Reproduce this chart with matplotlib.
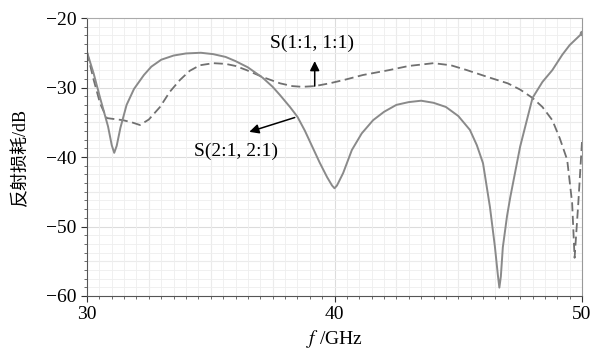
import matplotlib
matplotlib.use("Agg")
import matplotlib.pyplot as plt
from matplotlib.ticker import MultipleLocator

plt.rcParams['font.family'] = ['Liberation Serif', 'Noto Sans CJK SC']
plt.rcParams['mathtext.fontset'] = 'stix'

# S(2:1, 2:1) -- solid curve
f21 = [30.0, 30.27, 30.53, 30.85, 31.0, 31.1, 31.2, 31.35, 31.6, 31.9, 32.3, 32.6, 33.0, 33.5,
       34.0, 34.6, 35.1, 35.6, 36.0, 36.5, 37.1, 37.5, 37.8, 38.2, 38.5, 38.8,
       39.1, 39.4, 39.7, 39.9, 40.0, 40.1, 40.35, 40.7, 41.1, 41.56, 42.0, 42.5, 43.0,
       43.5, 44.0, 44.5, 45.0, 45.47, 45.75, 46.0, 46.28, 46.48, 46.6, 46.66, 46.72, 46.8,
       46.97, 47.1, 47.5, 48.0, 48.4, 48.8, 49.2, 49.5, 50.0]
s21 = [-24.9, -28.0, -31.5, -35.6, -38.3, -39.4, -38.4, -35.8, -32.5, -30.2, -28.2, -27.0, -26.0, -25.4,
       -25.1, -25.0, -25.2, -25.6, -26.2, -27.1, -28.6, -29.9, -31.1, -32.8, -34.2, -36.2,
       -38.5, -40.8, -42.9, -44.1, -44.5, -44.1, -42.3, -39.0, -36.6, -34.7, -33.5, -32.5, -32.1,
       -31.9, -32.2, -32.8, -34.1, -36.1, -38.3, -40.9, -47.2, -52.9, -57.0, -58.8, -57.2, -53.0,
       -48.5, -45.8, -38.5, -31.5, -29.2, -27.5, -25.3, -23.9, -22.2]

# S(1:1, 1:1) -- dashed curve
f11 = [30.0, 30.27, 30.53, 30.8, 31.45, 31.8, 32.14, 32.5, 32.95, 33.35, 33.76, 34.15,
       34.56, 35.1, 35.6, 36.0, 36.45, 37.1, 37.8, 38.3, 38.7, 39.2, 39.8, 40.4,
       41.15, 42.2, 43.0, 44.0, 44.7, 45.35, 46.2, 47.0, 47.5, 48.0, 48.4, 48.8,
       49.1, 49.4, 49.6, 49.7, 49.85, 50.0]
s11 = [-24.9, -28.9, -32.3, -34.4, -34.7, -35.0, -35.4, -34.6, -32.8, -30.6, -28.9, -27.6,
       -26.8, -26.5, -26.6, -26.9, -27.5, -28.5, -29.4, -29.8, -29.9, -29.8, -29.4, -28.9,
       -28.2, -27.5, -26.9, -26.5, -26.8, -27.5, -28.5, -29.4, -30.3, -31.5, -32.8, -34.7,
       -37.3, -40.4, -46.6, -54.5, -46.6, -37.7]

fig = plt.figure(figsize=(5.93, 3.51), dpi=100)
ax = fig.add_axes([0.1467, 0.1567, 0.8348, 0.792])

ax.plot(f11, s11, color='#707070', lw=1.3, dashes=(5, 2.5))
ax.plot(f21, s21, color='#8a8a8a', lw=1.4)
ax.plot([50.0], [-22.2], 'o', color='#8a8a8a', ms=3)

ax.set_xlim(30, 50)
ax.set_ylim(-60, -20)
ax.xaxis.set_major_locator(MultipleLocator(10))
ax.xaxis.set_minor_locator(MultipleLocator(0.5))
ax.yaxis.set_major_locator(MultipleLocator(10))
ax.yaxis.set_minor_locator(MultipleLocator(1.25))

for v in [32.5, 35, 37.5, 40, 42.5, 45, 47.5]:
    ax.axvline(v, color='#dcdcdc', lw=0.8, zorder=0)
for h in [-55, -50, -45, -40, -35, -30, -25]:
    ax.axhline(h, color='#dcdcdc', lw=0.8, zorder=0)
ax.grid(which='minor', color='#eeeeee', lw=0.6, zorder=0)

ax.tick_params(which='major', direction='out', length=4, width=0.8, labelsize=14, colors='#333333')
ax.tick_params(which='minor', direction='out', length=2, width=0.6, colors='#555555')
ax.tick_params(axis='both', labelcolor='black')
for lab in ax.get_xticklabels() + ax.get_yticklabels():
    lab.set_fontfamily('Liberation Serif')

ax.spines['left'].set_color('#555555')
ax.spines['bottom'].set_color('#555555')
ax.spines['top'].set_color('#aaaaaa')
ax.spines['right'].set_color('#999999')

ax.set_xlabel(r'$f$ /GHz', fontsize=14, labelpad=3)
ax.set_ylabel('反射损耗/dB', fontsize=13, labelpad=12)

ax.annotate('', xy=(39.2, -25.8), xytext=(39.2, -30.2),
            arrowprops=dict(arrowstyle='-|>', color='black', lw=1.1, mutation_scale=14))
ax.text(39.1, -23.6, 'S(1:1, 1:1)', fontsize=14, ha='center', va='center')
ax.annotate('', xy=(36.45, -36.5), xytext=(38.5, -34.2),
            arrowprops=dict(arrowstyle='-|>', color='black', lw=1.1, mutation_scale=14))
ax.text(36.0, -39.2, 'S(2:1, 2:1)', fontsize=14, ha='center', va='center')

fig.savefig('out.png', dpi=100)
